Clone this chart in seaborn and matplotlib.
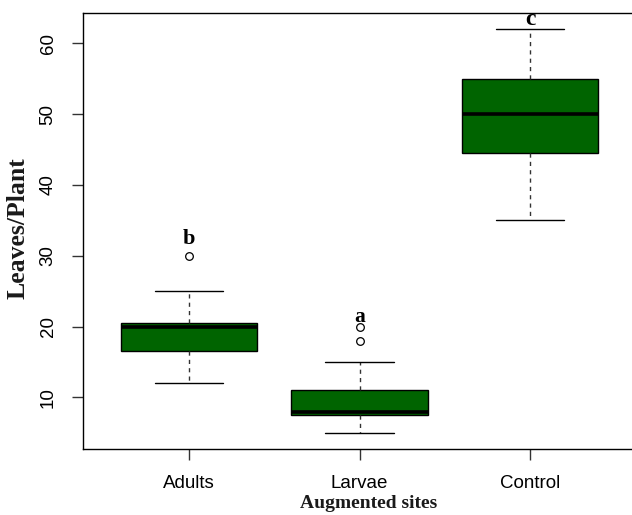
import matplotlib
matplotlib.use("Agg")
import matplotlib.pyplot as plt
import seaborn as sns
import pandas as pd

adults = [12, 14, 15, 16.5, 18, 19, 20, 20, 20, 20.5, 22, 25, 30]
larvae = [5, 6, 7, 7.5, 8, 8, 8, 9, 10, 11, 15, 18, 20]
control = [35, 40, 42, 44.5, 46, 48, 50, 52, 54, 55, 58, 60, 62]
categories = ["Adults", "Larvae", "Control"]
letters = ["b", "a", "c"]
letter_y = [31.7, 20.7, 62.6]
letter_sizes = [16, 15.5, 17]
yticks = [10, 20, 30, 40, 50, 60]

df = pd.DataFrame({
    "site": ["Adults"] * len(adults) + ["Larvae"] * len(larvae) + ["Control"] * len(control),
    "leaves": adults + larvae + control,
})

sns.set_theme(style="white")
plt.rcParams["font.family"] = ["Liberation Sans", "DejaVu Sans"]

W, H = 632, 515
fig = plt.figure(figsize=(W / 100, H / 100), dpi=100)
ax = fig.add_axes([83 / W, (H - 449) / H, (636 - 83) / W, (449 - 13) / H])

sns.boxplot(
    data=df, x="site", y="leaves", order=categories, ax=ax,
    color="#006400", saturation=1, width=0.8, linecolor="black", linewidth=1.0,
    whis=1.5,
    whiskerprops={"linestyle": (0, (3, 3)), "color": "#333333"},
    capprops={"color": "black"},
    medianprops={"linewidth": 2.6, "color": "black"},
    flierprops={"marker": "o", "markerfacecolor": "none", "markeredgecolor": "black",
                "markersize": 5.5, "markeredgewidth": 0.9},
)

for i, (t, yv, fs) in enumerate(zip(letters, letter_y, letter_sizes)):
    ax.text(i, yv, t, ha="center", va="baseline", fontsize=fs, fontweight="bold",
            color="black", family=["Liberation Serif", "DejaVu Serif"])

ax.set_xlim(-0.62, 2.62)
ax.set_ylim(2.72, 64.28)
ax.set_yticks(yticks)
ax.set_yticklabels([str(v) for v in yticks], rotation=90, va="center")
ax.tick_params(axis="both", direction="out", length=8, width=1, color="#333333",
               labelsize=13.5, pad=11, labelcolor="black", left=True, bottom=True)

for side in ["left", "bottom", "top"]:
    ax.spines[side].set_visible(True)
    ax.spines[side].set_color("black")
    ax.spines[side].set_linewidth(1.0)
ax.spines["right"].set_visible(False)

ax.set_xlabel("Augmented sites", fontsize=14, fontweight="bold",
              family=["Liberation Serif", "DejaVu Serif"], color="#1a1a1a")
ax.set_ylabel("Leaves/Plant", fontsize=18.5, fontweight="bold",
              family=["Liberation Serif", "DejaVu Serif"], color="#1a1a1a")
ax.xaxis.set_label_coords((368.5 - 83) / 553, (449 - 503) / 436)
ax.xaxis.label.set_va("center")
ax.yaxis.set_label_coords((18 - 83) / 553, (449 - 228) / 436)
ax.yaxis.label.set_va("center")

fig.savefig("out.png", dpi=100)
